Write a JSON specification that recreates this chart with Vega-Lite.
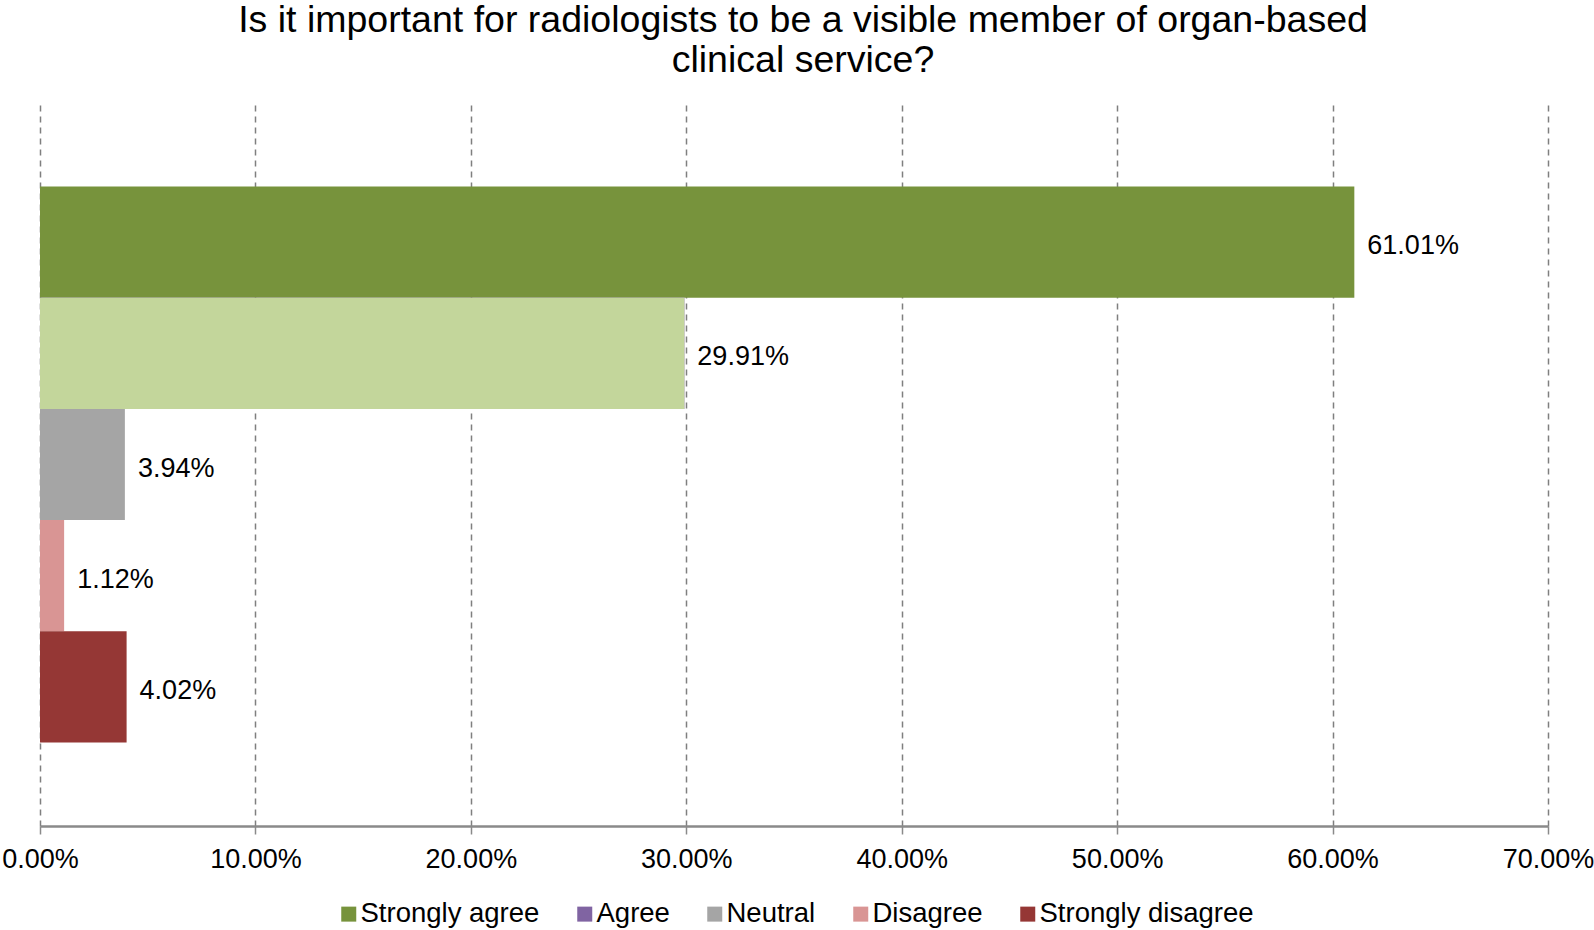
{
  "$schema": "https://vega.github.io/schema/vega-lite/v6.json",
  "autosize": {"type": "none"},
  "width": 1508,
  "height": 723,
  "padding": {"left": 40, "top": 103, "right": 46, "bottom": 104},
  "background": "white",
  "config": {
    "view": {"stroke": null},
    "legend": {"layout": {"bottom": {"anchor": "middle"}}}
  },
  "title": {
    "text": ["Is it important for radiologists to be a visible member of organ-based", "clinical service?"],
    "font": "Liberation Sans",
    "fontSize": 37.5,
    "fontWeight": "normal",
    "color": "black",
    "anchor": "middle",
    "baseline": "alphabetic",
    "lineHeight": 40,
    "offset": -6,
    "dx": 9
  },
  "data": {
    "values": [
      {"response": "Strongly agree", "pct": 0.6101},
      {"response": "Agree", "pct": 0.2991},
      {"response": "Neutral", "pct": 0.0394},
      {"response": "Disagree", "pct": 0.0112},
      {"response": "Strongly disagree", "pct": 0.0402}
    ]
  },
  "encoding": {
    "y": {
      "field": "response",
      "type": "nominal",
      "sort": ["Strongly agree", "Agree", "Neutral", "Disagree", "Strongly disagree"],
      "axis": null,
      "scale": {"paddingInner": 0, "paddingOuter": 0.75}
    },
    "x": {
      "field": "pct",
      "type": "quantitative",
      "scale": {"domain": [0, 0.7], "nice": false, "zero": true},
      "axis": {
        "title": null,
        "format": ".2%",
        "values": [0, 0.1, 0.2, 0.3, 0.4, 0.5, 0.6, 0.7],
        "labelFont": "Liberation Sans",
        "labelFontSize": 27,
        "labelColor": "black",
        "labelPadding": 12,
        "labelFlush": false,
        "labelOverlap": false,
        "domainColor": "#8a8a8a",
        "domainWidth": 2.5,
        "ticks": true,
        "tickSize": 8,
        "tickColor": "#8a8a8a",
        "tickWidth": 1.5,
        "grid": true,
        "gridColor": "#7f7f7f",
        "gridDash": [6, 5],
        "gridWidth": 1.5
      }
    }
  },
  "layer": [
    {
      "mark": {"type": "bar"},
      "encoding": {
        "color": {
          "field": "response",
          "type": "nominal",
          "scale": {
            "domain": ["Strongly agree", "Agree", "Neutral", "Disagree", "Strongly disagree"],
            "range": ["#77933C", "#8064A2", "#A5A5A5", "#D99594", "#953735"]
          },
          "legend": {
            "orient": "bottom",
            "direction": "horizontal",
            "columns": 5,
            "title": null,
            "labelFont": "Liberation Sans",
            "labelFontSize": 27.5,
            "labelColor": "black",
            "labelLimit": 400,
            "labelOffset": -2,
            "symbolType": "square",
            "symbolSize": 225,
            "symbolStrokeWidth": 0,
            "columnPadding": 31,
            "offset": 28
          }
        }
      }
    },
    {
      "transform": [{"filter": "datum.response === 'Agree'"}],
      "mark": {"type": "bar", "color": "#C3D69B"}
    },
    {
      "mark": {
        "type": "text",
        "align": "left",
        "baseline": "middle",
        "dx": 13,
        "dy": 4,
        "font": "Liberation Sans",
        "fontSize": 27,
        "color": "black"
      },
      "encoding": {
        "text": {"field": "pct", "type": "quantitative", "format": ".2%"}
      }
    }
  ]
}
